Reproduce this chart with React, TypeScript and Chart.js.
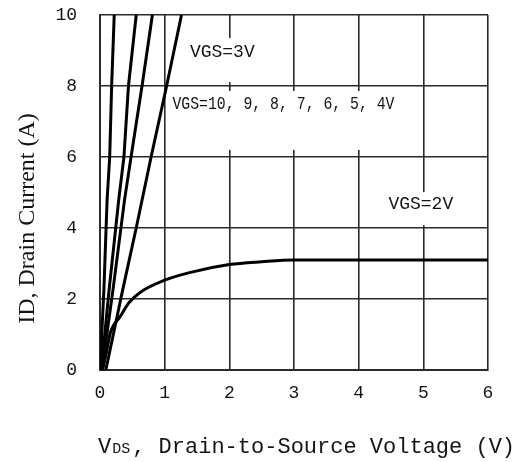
import React, { useEffect, useRef } from "react";
import { Chart, registerables } from "chart.js";

Chart.register(...registerables);

// Axis ticks
const vdsTicks = [0, 1, 2, 3, 4, 5, 6];
const idTicks = [0, 2, 4, 6, 8, 10];

// Near-linear curves (VGS = 10..4 V, steepest first) and VGS = 3 V
const curveA_vds = [0, 0.06, 0.11, 0.15, 0.18, 0.22];
const curveA_id = [0, 2.25, 4.8, 6.0, 8.0, 10];

const curveB_vds = [0.02, 0.14, 0.29, 0.37, 0.44, 0.56];
const curveB_id = [0, 2.25, 4.8, 6.0, 8.0, 10];

const curveC_vds = [0.03, 0.2, 0.38, 0.48, 0.65, 0.81];
const curveC_id = [0, 2.25, 4.8, 6.0, 8.0, 10];

const curveD_vds = [0.09, 0.35, 0.56, 0.79, 1.03, 1.26];
const curveD_id = [0, 2.25, 4.0, 6.0, 8.0, 10];

// VGS = 2 V saturating curve
const vgs2_vds = [0.04, 0.1, 0.16, 0.31, 0.45, 0.63, 1.0, 1.4, 2.0, 2.5, 3.0, 4.0, 5.0, 6.0];
const vgs2_id = [0, 0.5, 1.05, 1.5, 1.9, 2.2, 2.53, 2.75, 2.97, 3.05, 3.1, 3.1, 3.1, 3.1];

// Curve annotation texts
const labelTexts = ["VGS=3V", "VGS=10, 9, 8, 7, 6, 5, 4V", "VGS=2V"];

const xTitleMain = "V";
const xTitleSub = "DS";
const xTitleRest = ", Drain-to-Source Voltage (V)";
const yTitle = "ID, Drain Current (A)";

// annotation placement (data units): text anchor + white backing box
const labelPlacement = [
  { x: 1.39, y: 8.96, box: [1.33, 9.35, 2.5, 8.11], maxWidth: 67 },
  { x: 1.12, y: 7.48, box: [1.05, 7.86, 4.64, 6.2], maxWidth: 222 },
  { x: 4.46, y: 4.68, box: [4.4, 5.01, 5.5, 4.08], maxWidth: 69 },
];

const toPoints = (xs: number[], ys: number[]) => xs.map((v, i) => ({ x: v, y: ys[i] }));

const gridColor = "#2a2a2a";
const inkColor = "#141414";

const annotationPlugin = {
  id: "curveAnnotations",
  beforeDatasetsDraw(chart: any) {
    const { ctx } = chart;
    const xs = chart.scales.x;
    const ys = chart.scales.y;
    ctx.save();
    labelPlacement.forEach((p, i) => {
      const bx1 = xs.getPixelForValue(p.box[0]);
      const bx2 = xs.getPixelForValue(p.box[2]);
      const by1 = ys.getPixelForValue(p.box[1]);
      const by2 = ys.getPixelForValue(p.box[3]);
      ctx.fillStyle = "#ffffff";
      ctx.fillRect(bx1, Math.min(by1, by2), bx2 - bx1, Math.abs(by2 - by1));
      ctx.fillStyle = inkColor;
      ctx.font = '18px "Liberation Mono"';
      ctx.textAlign = "left";
      ctx.textBaseline = "middle";
      ctx.fillText(labelTexts[i], xs.getPixelForValue(p.x), ys.getPixelForValue(p.y), p.maxWidth);
    });
    ctx.restore();
  },
  afterDraw(chart: any) {
    const { ctx, chartArea } = chart;
    ctx.save();
    ctx.fillStyle = inkColor;
    // x title
    ctx.textAlign = "left";
    ctx.textBaseline = "alphabetic";
    const baseY = chartArea.bottom + 83;
    let cx = chartArea.left - 2;
    ctx.font = '22px "Liberation Mono"';
    ctx.fillText(xTitleMain, cx, baseY);
    cx += ctx.measureText(xTitleMain).width + 1;
    ctx.font = '15px "Liberation Mono"';
    ctx.fillText(xTitleSub, cx, baseY);
    cx += ctx.measureText(xTitleSub).width + 2;
    ctx.font = '22px "Liberation Mono"';
    ctx.fillText(xTitleRest, cx, baseY);
    // y title
    ctx.translate(28, (chartArea.top + chartArea.bottom) / 2 + 26);
    ctx.rotate(-Math.PI / 2);
    ctx.textAlign = "center";
    ctx.textBaseline = "middle";
    ctx.font = '24px "Liberation Serif"';
    ctx.fillText(yTitle, 0, 0);
    ctx.restore();
  },
};

export default function App() {
  const canvasRef = useRef<HTMLCanvasElement | null>(null);

  useEffect(() => {
    if (!canvasRef.current) return;
    const lineStyle = {
      showLine: true,
      borderColor: "#000000",
      backgroundColor: "#000000",
      borderWidth: 3,
      pointRadius: 0,
      fill: false,
    };
    const chart = new Chart(canvasRef.current, {
      type: "scatter",
      data: {
        datasets: [
          { ...lineStyle, label: "VGS=10V", data: toPoints(curveA_vds, curveA_id), tension: 0 },
          { ...lineStyle, label: "VGS=6V", data: toPoints(curveB_vds, curveB_id), tension: 0 },
          { ...lineStyle, label: "VGS=4V", data: toPoints(curveC_vds, curveC_id), tension: 0 },
          { ...lineStyle, label: "VGS=3V", data: toPoints(curveD_vds, curveD_id), tension: 0 },
          {
            ...lineStyle,
            label: "VGS=2V",
            data: toPoints(vgs2_vds, vgs2_id),
            cubicInterpolationMode: "monotone",
          },
        ],
      },
      options: {
        animation: false,
        responsive: true,
        maintainAspectRatio: false,
        layout: { padding: { left: 0, top: 15, right: 30, bottom: 0 } },
        plugins: { legend: { display: false }, tooltip: { enabled: false } },
        scales: {
          x: {
            type: "linear",
            min: 0,
            max: 6,
            afterBuildTicks: (s: any) => {
              s.ticks = vdsTicks.map((v) => ({ value: v }));
            },
            afterFit: (s: any) => {
              s.height = 92;
            },
            grid: { color: gridColor, lineWidth: 1.6, drawTicks: false },
            border: { color: gridColor, width: 2 },
            ticks: {
              color: inkColor,
              font: { family: "Liberation Mono", size: 18 },
              padding: 12,
              maxRotation: 0,
            },
          },
          y: {
            type: "linear",
            min: 0,
            max: 10,
            afterBuildTicks: (s: any) => {
              s.ticks = idTicks.map((v) => ({ value: v }));
            },
            afterFit: (s: any) => {
              s.width = 100;
              s.paddingTop = 10;
              s.paddingBottom = 10;
            },
            grid: { color: gridColor, lineWidth: 1.6, drawTicks: false },
            border: { color: gridColor, width: 2 },
            ticks: {
              color: inkColor,
              font: { family: "Liberation Mono", size: 18 },
              padding: 23,
            },
          },
        },
      },
      plugins: [annotationPlugin],
    } as any);
    return () => chart.destroy();
  }, []);

  return (
    <div
      style={{
        position: "fixed",
        left: 0,
        top: 0,
        width: 518,
        height: 462,
        background: "#ffffff",
      }}
    >
      <canvas ref={canvasRef} />
    </div>
  );
}
